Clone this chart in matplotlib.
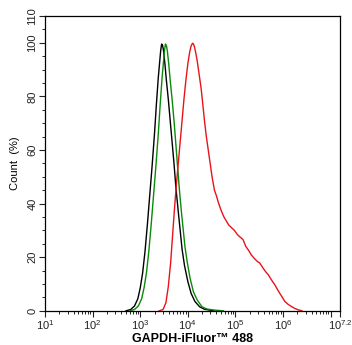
import numpy as np
import matplotlib
matplotlib.use('Agg')
from matplotlib import pyplot as plt
from matplotlib.ticker import LogLocator, NullFormatter

plt.rcParams['font.family'] = ['Liberation Sans', 'DejaVu Sans']
plt.rcParams['mathtext.fontset'] = 'custom'
plt.rcParams['mathtext.rm'] = 'Liberation Sans'

# histogram traces: log10 intensity and count (%)
black_log = [2.70, 2.80, 2.88, 2.95, 3.00, 3.05, 3.10, 3.15, 3.20, 3.25, 3.30, 3.34,
             3.38, 3.41, 3.43, 3.45, 3.47, 3.49, 3.52, 3.55, 3.59, 3.63, 3.67, 3.71,
             3.75, 3.80, 3.84, 3.88, 3.93, 4.00, 4.07, 4.15, 4.25, 4.35, 4.55]
black_pct = [0, 0.5, 1.8, 4.5, 8.5, 14, 22, 32, 43, 54, 66, 77,
             87, 93, 97, 99.5, 99, 97, 92, 86, 79, 71, 63, 55,
             46, 37, 30, 23, 17, 11, 6.5, 3.5, 1.5, 0.6, 0]

green_log = [2.78, 2.88, 2.96, 3.03, 3.08, 3.13, 3.18, 3.23, 3.28, 3.33, 3.38, 3.42,
             3.46, 3.49, 3.51, 3.53, 3.55, 3.57, 3.60, 3.63, 3.67, 3.71, 3.75, 3.78,
             3.82, 3.86, 3.90, 3.94, 3.99, 4.05, 4.12, 4.20, 4.30, 4.40, 4.55, 4.75]
green_pct = [0, 0.5, 1.8, 4.5, 8.5, 14, 22, 32, 43, 54, 66, 77,
             87, 93, 97, 99.5, 99, 97, 92, 86, 79, 71, 62, 55,
             46, 38, 31, 24, 18, 12, 7, 4, 1.5, 0.7, 0.3, 0]

red_log = [3.40, 3.48, 3.54, 3.59, 3.64, 3.68, 3.72, 3.76, 3.80, 3.84, 3.88, 3.92,
           3.96, 4.00, 4.04, 4.07, 4.10, 4.12, 4.14, 4.17, 4.20, 4.24, 4.28, 4.31,
           4.35, 4.39, 4.43, 4.47, 4.51, 4.56, 4.60, 4.65, 4.70, 4.76, 4.81, 4.86,
           4.92, 4.98, 5.04, 5.10, 5.16, 5.22, 5.28, 5.33, 5.40, 5.47, 5.51, 5.58,
           5.64, 5.69, 5.76, 5.83, 5.90, 5.97, 6.04, 6.11, 6.18, 6.25, 6.32, 6.40]
red_pct = [0, 0.5, 3, 9, 18, 28, 38, 47, 55, 63, 71, 79,
           86, 92, 96.5, 98.8, 99.8, 99.5, 98.5, 96, 93, 88, 83, 78,
           71, 65, 60, 55, 50, 45, 43, 40, 37.5, 35, 33.5, 32,
           31, 30, 28.5, 27.5, 26.6, 24, 22.5, 21, 19.5, 18.3, 17.9, 16,
           14.5, 13.5, 11.5, 9.7, 7.5, 5.5, 3.5, 2.4, 1.6, 0.9, 0.4, 0]

x_exps = [1, 2, 3, 4, 5, 6, 7, 7.2]
x_labels = ['10$^{1}$', '10$^{2}$', '10$^{3}$', '10$^{4}$', '10$^{5}$',
            '10$^{6}$', '', '10$^{7.2}$']
y_major = [0, 20, 40, 60, 80, 100, 110]

fig = plt.figure(figsize=(3.52, 3.45), dpi=100)
ax = fig.add_axes([0.128, 0.099, 0.838, 0.855])

ax.plot(10 ** np.array(black_log), black_pct, color='black', lw=1.0)
ax.plot(10 ** np.array(green_log), green_pct, color='#0a8a0a', lw=1.0)
ax.plot(10 ** np.array(red_log), red_pct, color='#e8131b', lw=1.0)

ax.set_xscale('log')
ax.set_xlim(10 ** 1, 10 ** 7.2)
ax.set_ylim(0, 110)
ax.set_xticks([10 ** e for e in x_exps])
ax.set_xticklabels(x_labels)
ax.xaxis.set_minor_locator(LogLocator(base=10, subs=np.arange(2, 10), numticks=20))
ax.xaxis.set_minor_formatter(NullFormatter())
ax.set_yticks(y_major)
ax.set_yticklabels([str(v) for v in y_major], rotation=90, va='center')
ax.set_yticks(np.arange(0, 111, 5), minor=True)

ax.tick_params(which='major', direction='out', length=4, width=0.8, pad=1.5,
               labelsize=8, colors='#222222', top=False, right=False)
ax.tick_params(which='minor', direction='out', length=2, width=0.6,
               top=False, right=False)
for s in ax.spines.values():
    s.set_linewidth(0.9)

ax.set_xlabel('GAPDH-iFluor™ 488', fontsize=9, fontweight='bold', va='baseline')
ax.xaxis.set_label_coords(0.5, -0.106)
ax.set_ylabel('Count  (%)', fontsize=8, labelpad=5)

fig.savefig('out.png', dpi=100)
